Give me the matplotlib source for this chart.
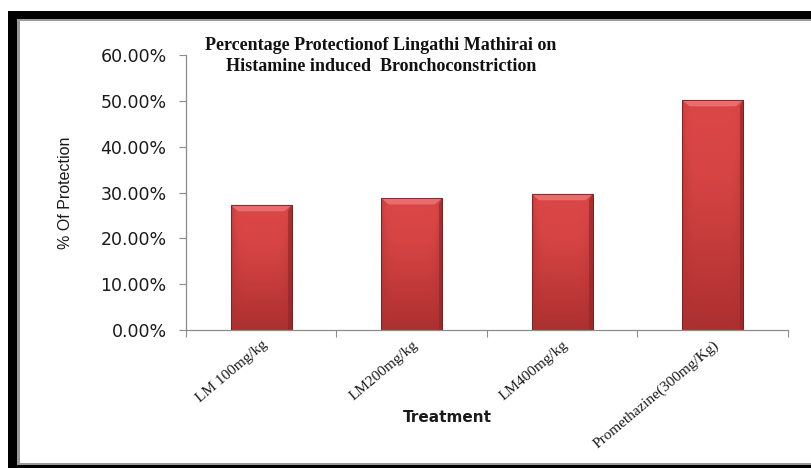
import numpy as np
import matplotlib
matplotlib.use("Agg")
import matplotlib.pyplot as plt
from matplotlib.patches import Rectangle, Polygon
from matplotlib.colors import LinearSegmentedColormap
from matplotlib.ticker import FuncFormatter, FixedLocator

# Data
treatments = ["LM 100mg/kg", "LM200mg/kg", "LM400mg/kg", "Promethazine(300mg/Kg)"]
protection = [0.273, 0.288, 0.297, 0.502]
y_ticks = [0.0, 0.1, 0.2, 0.3, 0.4, 0.5, 0.6]

title = "Percentage Protectionof Lingathi Mathirai on\nHistamine induced  Bronchoconstriction"
x_label = "Treatment"
y_label = "% Of Protection"

W, H = 812, 468
fig = plt.figure(figsize=(W / 100, H / 100), dpi=100)
fig.patch.set_facecolor("white")

ax = fig.add_axes([186 / W, (H - 330) / H, (788 - 186) / W, (330 - 55) / H])
ax.set_facecolor("white")

x = np.arange(len(treatments))
bar_w = 0.405
bars = ax.bar(x, protection, width=bar_w, color="#C73B3B",
              edgecolor="#7A1E1E", linewidth=0.6, zorder=2)

# Shaded bevel look for each bar
cmap = LinearSegmentedColormap.from_list(
    "redbevel", ["#AC3030", "#C33A3A", "#D64444", "#DB4747"])
ny, nx = 64, 32
vert = np.linspace(0, 1, ny)[:, None]
horiz = np.linspace(-1, 1, nx)[None, :]
shade = vert * (1 - 0.55 * np.abs(horiz) ** 6)
for b in bars:
    x0, w, h = b.get_x(), b.get_width(), b.get_height()
    im = ax.imshow(shade, cmap=cmap, vmin=0, vmax=1, origin="lower",
                   extent=[x0, x0 + w, 0, h], aspect="auto",
                   interpolation="bilinear", zorder=2.1)
    im.set_clip_path(b)
    # light bevel along the top edge
    bev_x = w * 0.12
    bev_y = 0.014
    top = Polygon([[x0, h], [x0 + w, h], [x0 + w - bev_x, h - bev_y],
                   [x0 + bev_x, h - bev_y]], closed=True,
                  facecolor="#EA6C6C", edgecolor="none", zorder=2.2)
    ax.add_patch(top)
    # darker right side edge
    side = Polygon([[x0 + w, h], [x0 + w, 0], [x0 + w - bev_x * 0.5, 0],
                    [x0 + w - bev_x * 0.5, h - bev_y]], closed=True,
                   facecolor="#8E2626", edgecolor="none", alpha=0.6, zorder=2.2)
    ax.add_patch(side)
    ax.add_patch(Rectangle((x0, 0), w, h, fill=False, edgecolor="#7A1E1E",
                           linewidth=0.6, zorder=2.3))

ax.set_xlim(-0.5, len(treatments) - 0.5)
ax.set_ylim(0, 0.6)

# y axis
ax.yaxis.set_major_locator(FixedLocator(y_ticks))
ax.yaxis.set_major_formatter(FuncFormatter(lambda v, p: f"{v * 100:.2f}%"))
ax.tick_params(axis="y", direction="out", length=5, width=0.8, color="#8C8C8C",
               labelsize=12.5, labelcolor="#1A1A1A", pad=9)

# x axis: ticks at category boundaries, labels at centres
ax.xaxis.set_major_locator(FixedLocator(np.arange(len(treatments) + 1) - 0.5))
ax.xaxis.set_minor_locator(FixedLocator(x))
ax.set_xticklabels([""] * (len(treatments) + 1))
ax.set_xticklabels(treatments, minor=True, rotation=40, ha="right",
                   rotation_mode="anchor", fontfamily="Liberation Serif",
                   fontsize=11, color="#1A1A1A")
ax.tick_params(axis="x", which="major", direction="out", length=5, width=0.8,
               color="#8C8C8C")
ax.tick_params(axis="x", which="minor", length=0, pad=6)

for s in ["top", "right"]:
    ax.spines[s].set_visible(False)
for s in ["left", "bottom"]:
    ax.spines[s].set_color("#8C8C8C")
    ax.spines[s].set_linewidth(0.9)

ax.set_ylabel(y_label, family="Liberation Sans", fontsize=11.5,
              color="#1A1A1A", labelpad=20)
fig.text(447 / W, 1 - 417 / H, x_label, ha="center", va="center",
         fontsize=11, fontweight="bold", family="DejaVu Sans", color="#1A1A1A")

fig.text(381 / W, 1 - 56 / H, title, ha="center", va="center",
         fontsize=13, fontweight="bold", family="Liberation Serif",
         color="#111111", linespacing=1.3)

# Picture frame
frame = [
    ((8, 0), 9, H - 11, "black"),
    ((8, H - 19), W - 8, 8, "black"),
    ((17, 0), 3, H - 19, "#9A9A9A"),
    ((17, H - 21), W - 17, 2, "#9A9A9A"),
    ((8, 0), W - 8, 3, "black"),
    ((17, 3), W - 17, 2, "#9A9A9A"),
]
for (fx, fy), fw, fh, fc in frame:
    fig.add_artist(Rectangle((fx / W, fy / H), fw / W, fh / H,
                             transform=fig.transFigure, facecolor=fc,
                             edgecolor="none", zorder=10))

fig.savefig("out.png", dpi=100)
